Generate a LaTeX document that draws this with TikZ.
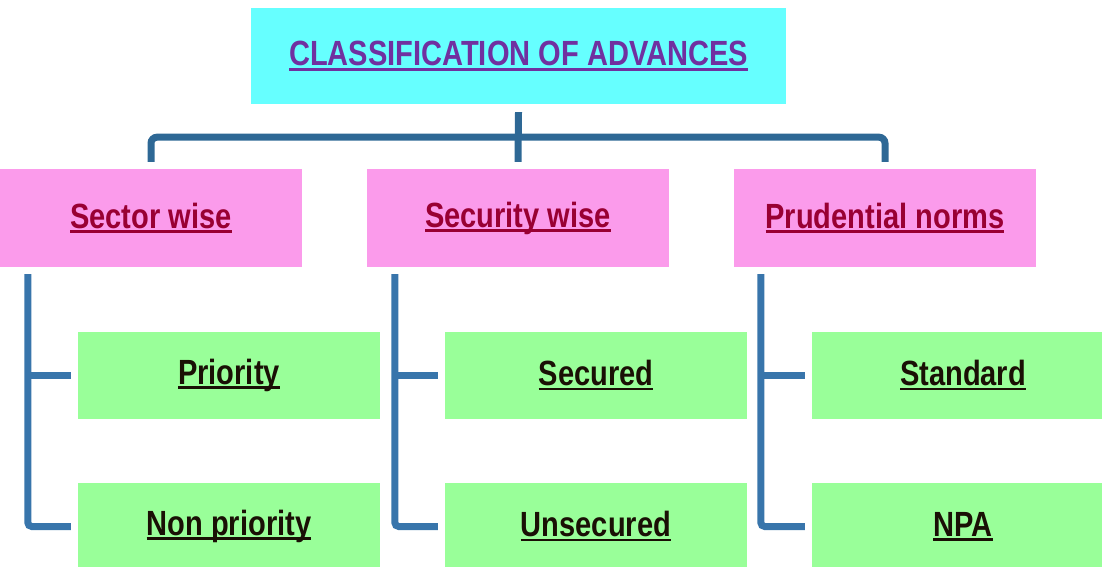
\documentclass[tikz,border=0pt]{standalone}
\usepackage{fontspec}
\newfontfamily\narrowsf{Liberation Sans}[FakeStretch=0.83]
\usepackage{tikz}
\definecolor{headcyan}{HTML}{66FFFF}
\definecolor{catpink}{HTML}{FB9BEB}
\definecolor{leafgreen}{HTML}{99FF99}
\definecolor{headtext}{HTML}{7030A0}
\definecolor{cattext}{HTML}{990033}
\definecolor{leaftext}{HTML}{1A1005}
\definecolor{trunkblue}{HTML}{2E6895}
\definecolor{branchblue}{HTML}{3875AB}
\newcommand\ulin[1]{\setbox0\hbox{#1}\rlap{\rule[-0.13em]{\wd0}{0.08em}}\box0}

\begin{document}
\begin{tikzpicture}[x=1pt,y=-1pt,
box/.style={rectangle,inner sep=0pt,minimum width=302pt,
  font=\narrowsf\bfseries\fontsize{35}{40}\selectfont},
headbox/.style={box,fill=headcyan,text=headtext,minimum width=535pt,minimum height=96pt},
catbox/.style={box,fill=catpink,text=cattext,minimum height=98pt},
leafbox/.style={box,fill=leafgreen,text=leaftext,minimum height=87pt},
trunk/.style={draw=trunkblue,line width=7pt,rounded corners=6pt},
branch/.style={draw=branchblue,line width=7pt,rounded corners=4pt}
]
\clip (0,0) rectangle (1102,566);
% boxes
\node[headbox] (head) at (518.5,56) {\ulin{CLASSIFICATION OF ADVANCES}};
\node[catbox] (sector) at (151,218) {\ulin{Sector wise}};
\node[catbox] (security) at (518,218) {\ulin{Security wise}};
\node[catbox] (prudent) at (885,218) {\ulin{Prudential norms}};
\node[leafbox] (prio) at (229,375.5) {\ulin{Priority}};
\node[leafbox] (nonprio) at (229,526.5) {\ulin{Non priority}};
\node[leafbox] (secured) at (596,375.5) {\ulin{Secured}};
\node[leafbox] (unsecured) at (596,526.5) {\ulin{Unsecured}};
\node[leafbox] (standard) at (963,375.5) {\ulin{Standard}};
\node[leafbox] (npa) at (963,526.5) {\ulin{NPA}};
% top bracket
\coordinate (bar) at ([yshift=-33pt]head.south);
\draw[trunk] ([yshift=7pt]sector.north) |- (bar) -| ([yshift=7pt]prudent.north);
\draw[trunk] ([yshift=-8pt]head.south) -- ([yshift=7pt]security.north);
% side branches
\coordinate (s1) at ([xshift=28pt,yshift=-7pt]sector.south west);
\coordinate (s2) at ([xshift=28pt,yshift=-7pt]security.south west);
\coordinate (s3) at ([xshift=27pt,yshift=-7pt]prudent.south west);
\draw[branch] (s1) |- ([xshift=-7pt]nonprio.west);
\draw[branch] (prio.west -| s1) -- ([xshift=-7pt]prio.west);
\draw[branch] (s2) |- ([xshift=-7pt]unsecured.west);
\draw[branch] (secured.west -| s2) -- ([xshift=-7pt]secured.west);
\draw[branch] (s3) |- ([xshift=-7pt]npa.west);
\draw[branch] (standard.west -| s3) -- ([xshift=-7pt]standard.west);
\end{tikzpicture}
\end{document}
